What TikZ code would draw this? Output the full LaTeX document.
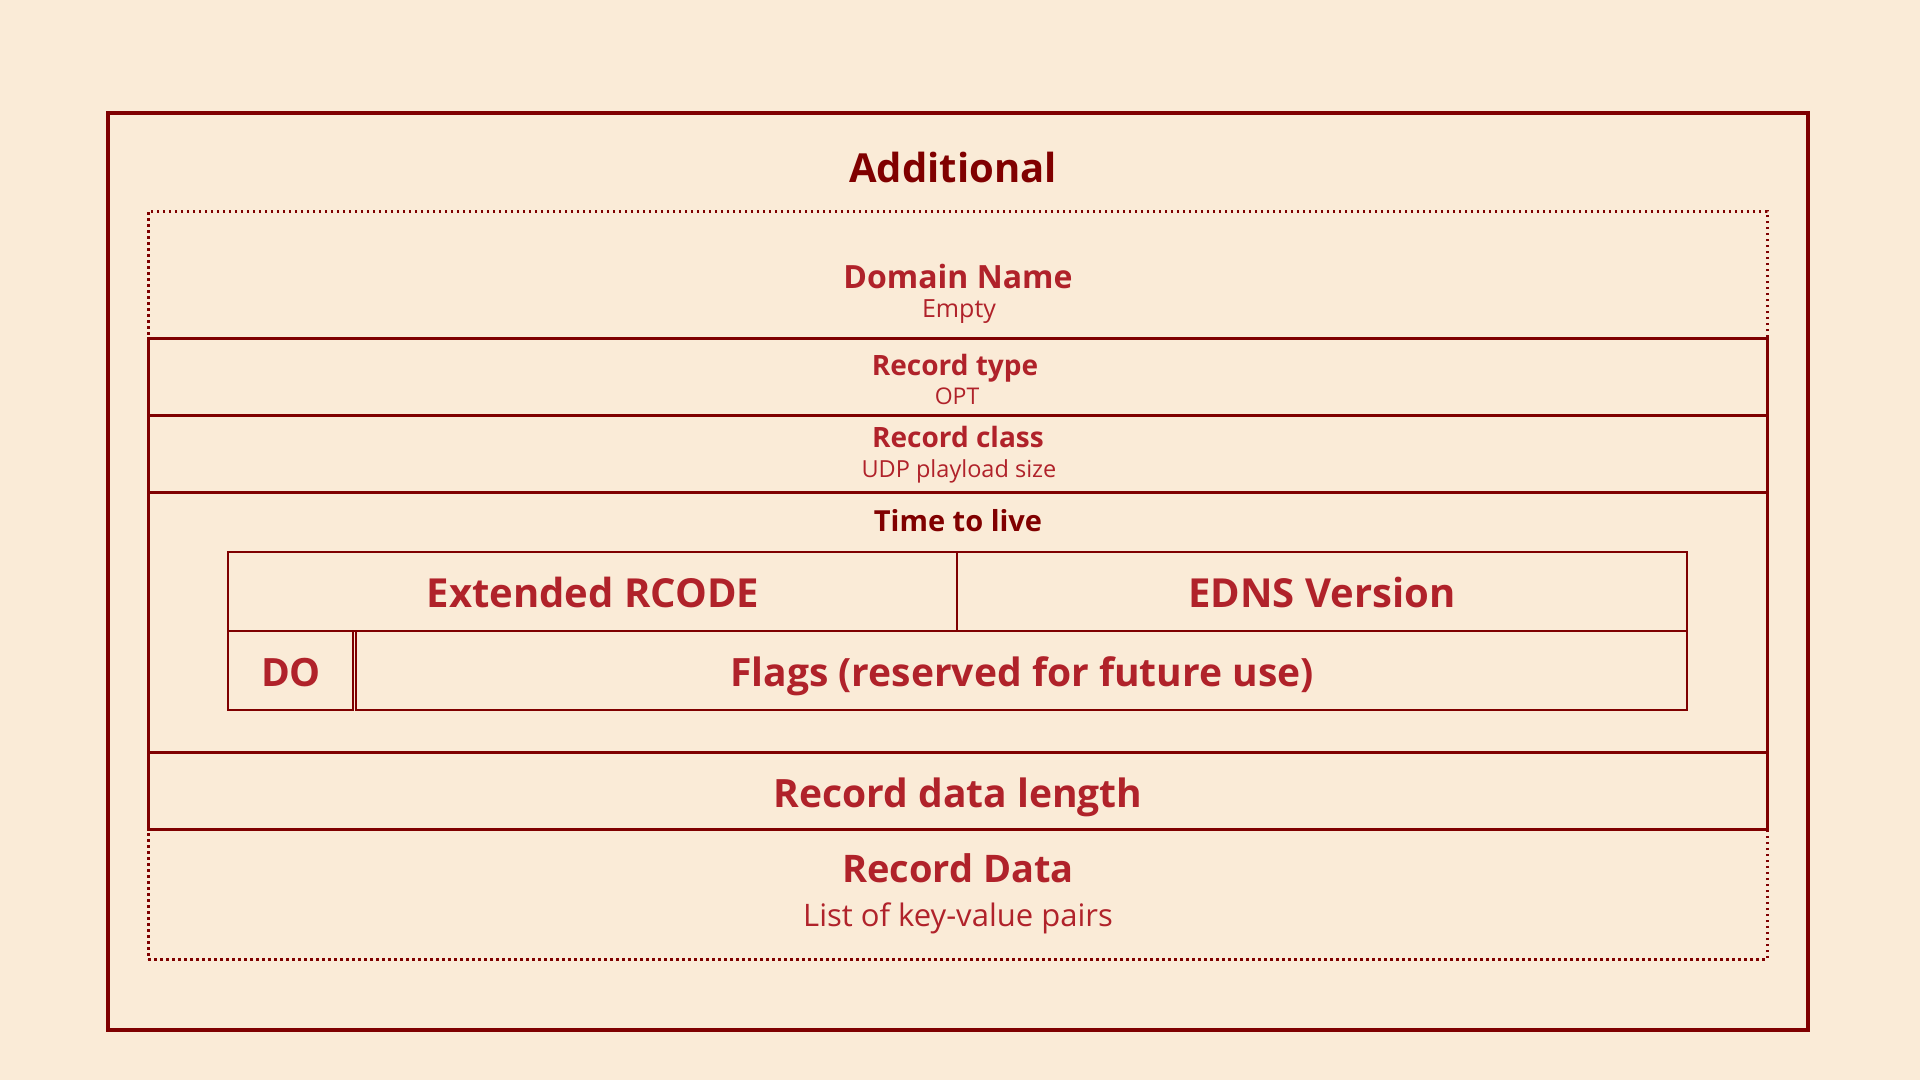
\documentclass[tikz,border=0pt]{standalone}
\usepackage{fontspec}
\setmainfont{Open Sans}
\usetikzlibrary{positioning}

\definecolor{fondo}{HTML}{FAEBD7}
\definecolor{borde}{HTML}{7F0000}
\definecolor{oscuro}{HTML}{800000}
\definecolor{rojo}{HTML}{B0222A}

\tikzset{
  estilo registro/.style={
      x=1pt, y=-1pt,
      caja/.style={draw=borde, line width=3pt, inner sep=0pt, minimum width=1619pt},
      punteada/.style={caja, dash pattern=on 2.5pt off 3.5pt},
      celda/.style={draw=borde, line width=2.5pt, inner sep=0pt, minimum height=79pt},
      every node/.style={anchor=center},
    },
  titulo/.style={anchor=base, inner sep=0pt, text=rojo, font={\bfseries\fontsize{#1}{#1}\selectfont}},
  oscuro/.style={text=oscuro},
  nota/.style={anchor=base, inner sep=0pt, text=rojo, font={\fontsize{#1}{#1}\selectfont}},
}

\begin{document}
\begin{tikzpicture}[estilo registro]
  \fill[fondo] (0,0) rectangle (1920,1080);
  \useasboundingbox (0,0) rectangle (1920,1080);

  \node[draw=borde, line width=4pt, minimum width=1700pt, minimum height=917pt] (marco) at (958,571.5) {};
  \node[titulo=40, oscuro] (add) at (953,182) {Additional};

  % campos del registro OPT
  \node[punteada, minimum height=127pt] (nombre) at (957.5,274.5) {};
  \node[punteada, minimum height=130pt] (datos) at (957.5,894) {};
  \node[caja, minimum height=77pt] (tipo) at (957.5,376.5) {};
  \node[caja, minimum height=77pt] (clase) at (957.5,453.5) {};
  \node[caja, minimum height=260pt] (ttl) at (957.5,622) {};
  \node[caja, minimum height=77pt] (long) at (957.5,790.5) {};

  % tabla del TTL
  \node[celda, minimum width=729pt] (rcode) at (592.5,591.5) {};
  \node[celda, minimum width=730pt] (edns) at (1322,591.5) {};
  \node[celda, minimum width=125pt] (do) at (290.5,670.5) {};
  \node[celda, minimum width=1331pt] (flags) at (1021.5,670.5) {};

  \node[titulo=32] (t-nombre) at (958,288) {Domain Name};
  \node[nota=25] (n-nombre) at (959,317) {Empty};
  \node[titulo=28] (t-tipo) at (955,375) {Record type};
  \node[nota=23] (n-tipo) at (957,404) {OPT};
  \node[titulo=28] (t-clase) at (958,447) {Record class};
  \node[nota=23.5] (n-clase) at (959,477) {UDP playload size};
  \node[titulo=29, oscuro] (t-ttl) at (958,531) {Time to live};
  \node[titulo=40] (t-rcode) at (593,607) {Extended RCODE};
  \node[titulo=40] (t-edns) at (1322,607) {EDNS Version};
  \node[titulo=39] (t-do) at (291,686) {DO};
  \node[titulo=39] (t-flags) at (1022,686) {Flags (reserved for future use)};
  \node[titulo=39] (t-long) at (958,807) {Record data length};
  \node[titulo=38] (t-datos) at (958,882) {Record Data};
  \node[nota=31] (n-datos) at (958,926) {List of key-value pairs};
\end{tikzpicture}
\end{document}
